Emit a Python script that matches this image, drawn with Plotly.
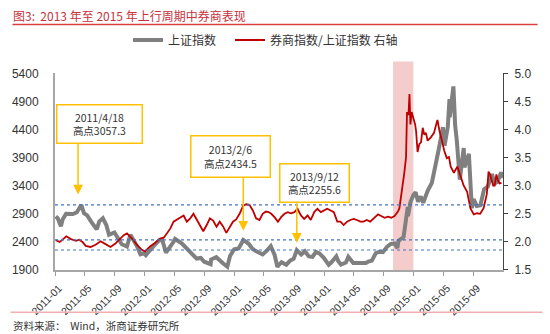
import plotly.graph_objects as go

# ---------------- data ----------------
sse_dates = [
    "2011-01-04", "2011-01-12", "2011-01-25", "2011-02-01", "2011-02-15", "2011-02-28",
    "2011-03-15", "2011-03-31", "2011-04-08", "2011-04-18", "2011-04-29", "2011-05-12",
    "2011-05-31", "2011-06-20", "2011-06-30", "2011-07-15", "2011-07-29", "2011-08-09",
    "2011-08-31", "2011-09-15", "2011-09-30", "2011-10-21", "2011-11-04", "2011-11-30",
    "2011-12-15", "2011-12-30", "2012-01-06", "2012-01-31", "2012-02-29", "2012-03-13",
    "2012-03-28", "2012-04-27", "2012-05-04", "2012-05-31", "2012-06-15", "2012-06-29",
    "2012-07-16", "2012-07-31", "2012-08-17", "2012-08-31", "2012-09-26", "2012-09-28",
    "2012-10-19", "2012-10-31", "2012-11-15", "2012-12-03", "2012-12-14", "2012-12-31",
    "2013-01-18", "2013-01-31", "2013-02-06", "2013-02-28", "2013-03-15", "2013-03-29",
    "2013-04-12", "2013-04-26", "2013-05-15", "2013-05-29", "2013-06-14", "2013-06-25",
    "2013-06-28", "2013-07-12", "2013-07-31", "2013-08-16", "2013-08-30", "2013-09-12",
    "2013-09-30", "2013-10-15", "2013-10-31", "2013-11-15", "2013-11-29", "2013-12-13",
    "2013-12-31", "2014-01-20", "2014-01-30", "2014-02-20", "2014-02-28", "2014-03-11",
    "2014-03-31", "2014-04-10", "2014-04-30", "2014-05-15", "2014-05-30", "2014-06-20",
    "2014-06-30", "2014-07-15", "2014-07-31", "2014-08-15", "2014-08-29", "2014-09-15",
    "2014-09-30", "2014-10-15", "2014-10-27", "2014-10-31", "2014-11-21", "2014-11-28",
    "2014-12-08", "2014-12-09", "2014-12-19", "2014-12-31", "2015-01-09", "2015-01-19",
    "2015-01-30", "2015-02-09", "2015-02-27", "2015-03-16", "2015-03-31", "2015-04-15",
    "2015-04-30", "2015-05-07", "2015-05-20", "2015-05-27", "2015-05-28", "2015-06-12",
    "2015-06-19", "2015-06-26", "2015-07-08", "2015-07-24", "2015-07-27", "2015-08-14",
    "2015-08-26", "2015-09-02", "2015-09-15", "2015-09-30", "2015-10-15", "2015-10-30",
    "2015-11-16", "2015-11-27", "2015-12-09", "2015-12-23", "2015-12-31",
]
sse_values = [
    2853, 2821, 2677, 2798, 2900, 2905,
    2897, 2928, 2999, 3057, 2911, 2871,
    2743, 2622, 2762, 2820, 2701, 2526,
    2568, 2476, 2359, 2317, 2528, 2333,
    2180, 2199, 2164, 2292, 2428, 2435,
    2210, 2397, 2452, 2373, 2306, 2225,
    2172, 2103, 2115, 2047, 2004, 2086,
    2128, 2069, 2019, 1959, 2150, 2269,
    2284, 2385, 2434, 2366, 2278, 2237,
    2207, 2177, 2254, 2324, 2163, 1951,
    1979, 2039, 1994, 2068, 2098, 2255,
    2175, 2233, 2141, 2135, 2220, 2196,
    2116, 1992, 2033, 2142, 2056, 1997,
    2033, 2134, 2026, 2025, 2039, 2024,
    2048, 2067, 2202, 2226, 2217, 2316,
    2364, 2373, 2290, 2420, 2487, 2683,
    3020, 2856, 3108, 3235, 3285, 3116,
    3210, 3095, 3310, 3449, 3748, 4084,
    4442, 4112, 4446, 4941, 4620, 5166,
    4478, 4193, 3507, 4070, 3725, 3965,
    3000, 3160, 3040, 3053, 3338, 3383,
    3607, 3436, 3470, 3636, 3539,
]

ratio_dates = [
    "2011-01-04", "2011-01-20", "2011-02-01", "2011-02-16", "2011-03-07", "2011-03-27",
    "2011-04-10", "2011-04-23", "2011-05-06", "2011-05-26", "2011-06-15", "2011-07-06",
    "2011-07-26", "2011-08-15", "2011-09-04", "2011-09-18", "2011-10-08", "2011-10-21",
    "2011-11-04", "2011-11-17", "2011-11-30", "2011-12-21", "2012-01-03", "2012-01-23",
    "2012-02-12", "2012-03-04", "2012-03-20", "2012-04-02", "2012-04-15", "2012-04-28",
    "2012-05-12", "2012-05-25", "2012-06-08", "2012-06-21", "2012-07-05", "2012-07-18",
    "2012-07-31", "2012-08-14", "2012-08-27", "2012-09-10", "2012-09-23", "2012-10-06",
    "2012-10-20", "2012-11-02", "2012-11-15", "2012-11-29", "2012-12-12", "2012-12-26",
    "2013-01-08", "2013-01-22", "2013-02-05", "2013-02-18", "2013-03-03", "2013-03-17",
    "2013-03-30", "2013-04-13", "2013-04-26", "2013-05-09", "2013-05-20", "2013-05-31",
    "2013-06-13", "2013-06-27", "2013-07-10", "2013-07-24", "2013-08-06", "2013-08-20",
    "2013-09-02", "2013-09-15", "2013-09-29", "2013-10-12", "2013-10-26", "2013-11-08",
    "2013-11-22", "2013-12-05", "2013-12-19", "2014-01-01", "2014-01-14", "2014-01-28",
    "2014-02-10", "2014-02-24", "2014-03-09", "2014-03-22", "2014-04-05", "2014-04-18",
    "2014-05-02", "2014-05-15", "2014-05-29", "2014-06-11", "2014-06-24", "2014-07-08",
    "2014-07-21", "2014-08-09", "2014-08-22", "2014-09-05", "2014-09-18", "2014-10-02",
    "2014-10-15", "2014-10-29", "2014-11-04", "2014-11-11", "2014-11-18", "2014-11-24",
    "2014-12-01", "2014-12-05", "2014-12-11", "2014-12-15", "2014-12-19", "2014-12-24",
    "2014-12-31", "2015-01-07", "2015-01-11", "2015-01-17", "2015-01-24", "2015-01-31",
    "2015-02-07", "2015-02-13", "2015-02-20", "2015-02-27", "2015-03-12", "2015-03-25",
    "2015-04-01", "2015-04-08", "2015-04-15", "2015-04-21", "2015-04-28", "2015-05-05",
    "2015-05-16", "2015-05-25", "2015-06-01", "2015-06-14", "2015-06-28", "2015-07-11",
    "2015-07-24", "2015-08-07", "2015-08-20", "2015-09-03", "2015-09-16", "2015-09-29",
    "2015-10-13", "2015-10-26", "2015-11-02", "2015-11-08", "2015-11-21", "2015-11-27",
    "2015-12-04", "2015-12-10", "2015-12-17", "2015-12-25",
]
ratio_values = [
    2.03, 2.00, 2.04, 2.10, 2.05, 2.02,
    2.04, 2.00, 1.93, 1.91, 1.95, 2.01,
    1.96, 1.91, 1.97, 2.03, 2.12, 2.15,
    2.09, 2.03, 1.95, 1.86, 1.83, 1.92,
    1.98, 2.06, 2.08, 2.16, 2.24, 2.36,
    2.40, 2.44, 2.47, 2.36, 2.42, 2.50,
    2.40, 2.27, 2.19, 2.30, 2.42, 2.38,
    2.27, 2.36, 2.28, 2.16, 2.25, 2.36,
    2.40, 2.50, 2.64, 2.67, 2.66, 2.56,
    2.42, 2.39, 2.50, 2.54, 2.53, 2.50,
    2.44, 2.36, 2.44, 2.50, 2.53, 2.51,
    2.53, 2.59, 2.47, 2.41, 2.47, 2.39,
    2.53, 2.59, 2.53, 2.56, 2.59, 2.56,
    2.53, 2.36, 2.36, 2.30, 2.36, 2.39,
    2.41, 2.39, 2.36, 2.36, 2.39, 2.36,
    2.42, 2.49, 2.46, 2.43, 2.45, 2.43,
    2.46, 2.54, 2.60, 2.83, 2.97, 3.23,
    3.51, 4.31, 4.26, 4.63, 4.09, 4.31,
    4.20, 4.09, 3.97, 3.60, 3.74, 3.77,
    4.03, 3.91, 3.94, 3.80, 3.86, 3.94,
    4.06, 4.17, 4.00, 3.91, 3.77, 3.63,
    3.49, 3.51, 3.34, 3.23, 3.34, 3.17,
    3.00, 2.89, 2.60, 2.49, 2.51, 2.50,
    2.60, 2.85, 3.25, 3.20, 3.00, 3.00,
    3.20, 3.10, 3.04, 3.05,
]

peak_dates = ["2011-04-05", "2013-02-06", "2013-09-12"]
peak_labels = ["2011/4/18<br>高点3057.3", "2013/2/6<br>高点2434.5", "2013/9/12<br>高点2255.6"]
peak_levels = [3057.3, 2434.5, 2255.6]
shade_period = ["2014-10-09", "2014-12-31"]

# ---------------- figure ----------------
CJK = "Noto Sans CJK SC"
LAT = "Liberation Sans"

fig = go.Figure()
fig.add_trace(go.Scatter(
    x=sse_dates, y=sse_values, mode="lines", name="上证指数",
    line=dict(color="#808080", width=4), legend="legend",
))
fig.add_trace(go.Scatter(
    x=ratio_dates, y=ratio_values, mode="lines", name="券商指数/上证指数 右轴",
    line=dict(color="#C00000", width=1.8), yaxis="y2", legend="legend2",
))

W, H = 550, 334
ML, MR, MT, MB = 50, 47, 70, 64
PW, PH = W - ML - MR, H - MT - MB


def px(xp):
    return (xp - ML) / PW


def py(yp):
    return (H - MB - yp) / PH


shapes = [
    dict(type="rect", xref="x", yref="paper", x0=shade_period[0], x1=shade_period[1],
         y0=0, y1=py(58), fillcolor="#F4CCCC", line=dict(width=0), layer="below"),
    dict(type="line", xref="paper", yref="paper", x0=px(7), x1=px(538), y0=py(20.5), y1=py(20.5),
         line=dict(color="#D94040", width=1.5)),
    dict(type="line", xref="paper", yref="paper", x0=px(5), x1=px(543), y0=py(313), y1=py(313),
         line=dict(color="#F2AFAF", width=1.5)),
]
for lv in peak_levels:
    shapes.append(dict(type="line", xref="paper", yref="y", x0=0, x1=1, y0=lv, y1=lv,
                       line=dict(color="#4472C4", width=1.2, dash="dot"), layer="above"))

annotations = [
    dict(text="图3:  2013 年至 2015 年上行周期中券商表现", xref="paper", yref="paper",
         x=px(6), y=py(11), xanchor="left", yanchor="middle", showarrow=False,
         font=dict(family=CJK, size=12, color="#C8323C")),
    dict(text="资料来源：  Wind，浙商证券研究所", xref="paper", yref="paper",
         x=px(6), y=py(326), xanchor="left", yanchor="middle", showarrow=False,
         font=dict(family=CJK, size=10.5, color="#333333")),
]

box_centers = [(95, 121.5, 80, 33), (227, 154.5, 74, 36), (312, 182, 64, 33)]
arrow_lens = [52, 55, 41]
arrow_tip_vals = [3245, 2597, 2387]
for (cx, cy, bw, bh), lab in zip(box_centers, peak_labels):
    annotations.append(dict(
        text=lab, xref="paper", yref="paper", x=px(cx), y=py(cy),
        xanchor="center", yanchor="middle", showarrow=False,
        width=bw, height=bh, borderpad=2, bordercolor="#FFC000", borderwidth=1.5,
        bgcolor="white", align="center",
        font=dict(family=CJK, size=10.5, color="#333333"),
    ))
for d, tipv, ln in zip(peak_dates, arrow_tip_vals, arrow_lens):
    annotations.append(dict(
        text="", xref="x", yref="y", x=d, y=tipv, ax=0, ay=-ln,
        showarrow=True, arrowhead=2, arrowsize=1.3, arrowwidth=1.5, arrowcolor="#FFC000",
    ))

legend_common = dict(orientation="h", xref="container", yref="container",
                     y=1 - 40 / H, xanchor="left", yanchor="middle",
                     font=dict(family=CJK, size=12, color="#333333"),
                     bgcolor="rgba(0,0,0,0)")

fig.update_layout(
    width=W, height=H,
    margin=dict(l=ML, r=MR, t=MT, b=MB),
    paper_bgcolor="white", plot_bgcolor="white",
    font=dict(family=LAT + ", " + CJK, size=12, color="#333333"),
    showlegend=True,
    legend=dict(x=128 / W, **legend_common),
    legend2=dict(x=230 / W, **legend_common),
    xaxis=dict(type="date", range=["2011-01-01", "2015-12-31"], tick0="2011-01-01",
               dtick="M4", tickformat="%Y-%m", tickangle=-45, ticks="outside", ticklen=4,
               tickcolor="#999999", showline=True, linecolor="#A6A6A6", linewidth=2,
               showgrid=False, zeroline=False, ticklabelshift=4, ticklabelstandoff=2,
               tickfont=dict(family=LAT, size=10.5, color="#333333")),
    yaxis=dict(range=[1900, 5400], dtick=500, tick0=1900, showline=True, linecolor="#A6A6A6",
               linewidth=2, showgrid=False, zeroline=False, ticks="",
               ticklabelstandoff=12,
               tickfont=dict(family=LAT, size=12, color="#333333")),
    yaxis2=dict(range=[1.5, 5.0], dtick=0.5, tick0=1.5, tickformat=".1f", overlaying="y",
                side="right", showline=True, linecolor="#444444", linewidth=1,
                ticks="outside", ticklen=4, tickcolor="#444444", showgrid=False,
                zeroline=False, ticklabelstandoff=4,
                tickfont=dict(family=LAT, size=12, color="#333333")),
    shapes=shapes,
    annotations=annotations,
)

fig.write_html("out.html")
